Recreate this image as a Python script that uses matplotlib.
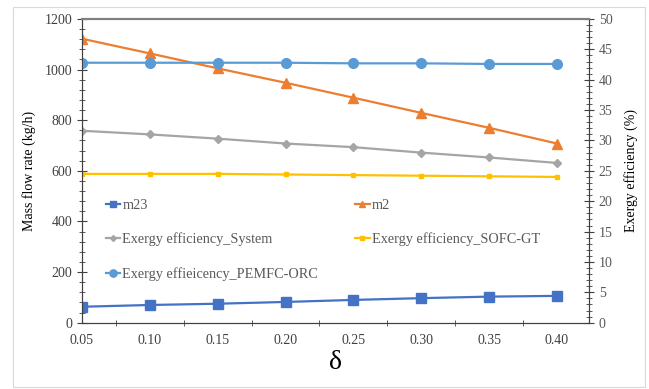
import matplotlib
matplotlib.use('Agg')
import matplotlib.pyplot as plt
from matplotlib.patches import Rectangle
from matplotlib.ticker import MultipleLocator, FixedLocator

plt.rcParams['font.family'] = ['Liberation Serif', 'DejaVu Serif']

# data
delta = [0.05, 0.10, 0.15, 0.20, 0.25, 0.30, 0.35, 0.40]
m23 = [63, 70, 75, 82, 90, 97, 103, 106]
m2 = [1122, 1064, 1005, 948, 889, 829, 770, 708]
ex_system = [31.6, 31.0, 30.3, 29.5, 28.9, 28.0, 27.2, 26.3]
ex_sofc_gt = [24.5, 24.5, 24.5, 24.4, 24.3, 24.2, 24.1, 24.0]
ex_pemfc_orc = [42.8, 42.8, 42.8, 42.8, 42.7, 42.7, 42.6, 42.6]
xtick_labels = ['0.05', '0.10', '0.15', '0.20', '0.25', '0.30', '0.35', '0.40']

fig = plt.figure(figsize=(6.49, 3.89), dpi=100)
# outer chart border
fig.patches.append(Rectangle((13/649, 2/389), 632/649, 380/389, transform=fig.transFigure,
                             fill=False, edgecolor='#d9d9d9', linewidth=0.8))

ax = fig.add_axes([82/649, 1 - 322.7/389, 507/649, 303.7/389])
ax2 = ax.twinx()

l1, = ax.plot(delta, m23, color='#4472C4', marker='s', markersize=6.5, linewidth=1.6, label='m23')
l2, = ax.plot(delta, m2, color='#ED7D31', marker='^', markersize=6.5, linewidth=1.6, label='m2')
l3, = ax2.plot(delta, ex_system, color='#A5A5A5', marker='D', markersize=4, linewidth=1.6,
               label='Exergy efficiency_System')
l4, = ax2.plot(delta, ex_sofc_gt, color='#FFC000', marker='s', markersize=3.5, linewidth=1.6,
               label='Exergy efficiency_SOFC-GT')
l5, = ax2.plot(delta, ex_pemfc_orc, color='#5B9BD5', marker='o', markersize=7, linewidth=1.6,
               label='Exergy effieicency_PEMFC-ORC')

ax.set_xlim(0.05, 0.4236)
ax.set_ylim(0, 1200)
ax2.set_ylim(0, 50)

ax.set_xticks(delta)
ax.set_xticklabels(xtick_labels)
ax.xaxis.set_minor_locator(FixedLocator([d + 0.025 for d in delta]))
ax.yaxis.set_major_locator(MultipleLocator(200))
ax.yaxis.set_minor_locator(MultipleLocator(40))
ax2.yaxis.set_major_locator(MultipleLocator(5))
ax2.yaxis.set_minor_locator(MultipleLocator(1))

ax.tick_params(axis='x', which='major', length=0, labelsize=10, labelcolor='#404040', pad=8)
ax.tick_params(axis='x', which='minor', length=4, direction='inout', color='#404040')
ax.tick_params(axis='y', which='major', length=7, direction='inout', labelsize=10,
               labelcolor='#404040', color='#404040')
ax.tick_params(axis='y', which='minor', length=4, direction='inout', color='#404040')
ax2.tick_params(axis='y', which='major', length=7, direction='inout', labelsize=10,
                labelcolor='#595959', color='#404040')
ax2.tick_params(axis='y', which='minor', length=4, direction='inout', color='#404040')

for a in (ax, ax2):
    a.spines['top'].set_color('#7f7f7f')
    a.spines['top'].set_linewidth(1.5)
    a.spines['left'].set_color('#404040')
    a.spines['right'].set_color('#404040')
    a.spines['bottom'].set_color('#404040')

ax.set_ylabel('Mass flow rate (kg/h)', fontsize=10, labelpad=6)
ax2.set_ylabel('Exergy efficiency (%)', fontsize=10, labelpad=8)
ax.set_xlabel('δ', fontsize=20, labelpad=2)

handles = [l1, l3, l5, l2, l4]
fig.legend(handles, [h.get_label() for h in handles], ncol=2, frameon=False,
           loc='upper left', bbox_to_anchor=(93/649, 1 - 186/389), fontsize=10.3,
           handlelength=1.0, handletextpad=0.15, labelspacing=1.45, columnspacing=2.6,
           markerscale=0.75, labelcolor='#595959')

fig.savefig('out.png', dpi=100)
